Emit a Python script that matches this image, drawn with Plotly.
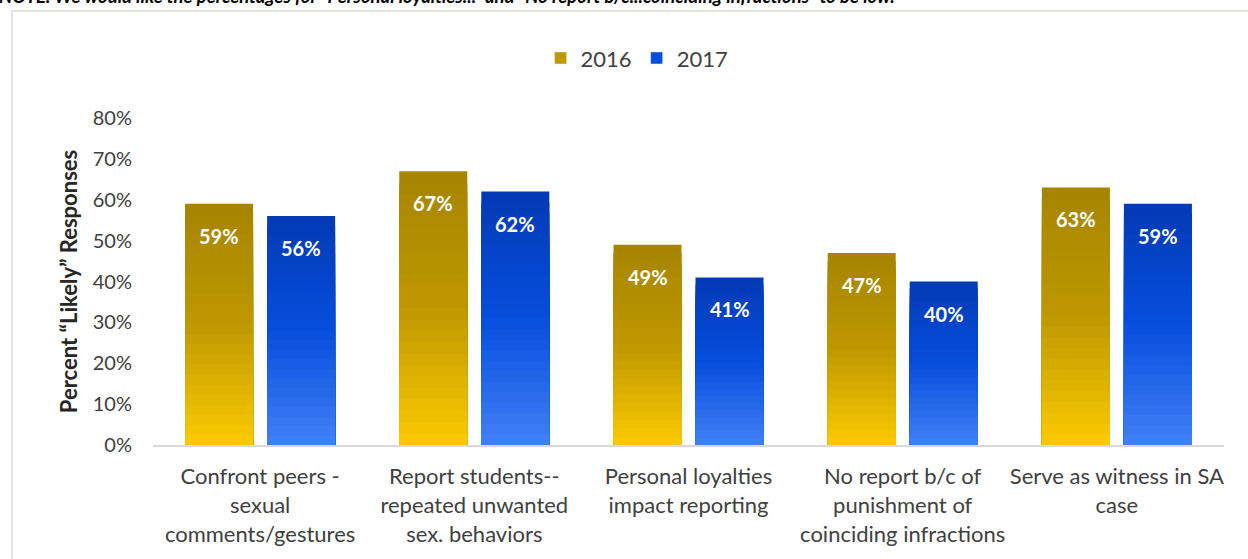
import plotly.graph_objects as go

categories = [
    "Confront peers -<br>sexual<br>comments/gestures",
    "Report students--<br>repeated unwanted<br>sex. behaviors",
    "Personal loyalties<br>impact reporting",
    "No report b/c of<br>punishment of<br>coinciding infractions",
    "Serve as witness in SA<br>case",
]
values_2016 = [59, 67, 49, 47, 63]
values_2017 = [56, 62, 41, 40, 59]
labels_2016 = ["59%", "67%", "49%", "47%", "63%"]
labels_2017 = ["56%", "62%", "41%", "40%", "59%"]
y_ticks = [0, 10, 20, 30, 40, 50, 60, 70, 80]

FONT = "Lato"

def lerp(c1, c2, t):
    return tuple(round(a + (b - a) * t) for a, b in zip(c1, c2))

def grad(stops, t):
    # t: 0 = top of bar, 1 = bottom
    for (t0, c0), (t1, c1) in zip(stops, stops[1:]):
        if t <= t1:
            return lerp(c0, c1, (t - t0) / (t1 - t0))
    return stops[-1][1]

gold_stops = [(0.0, (166, 132, 0)), (0.5, (190, 152, 0)), (1.0, (252, 202, 0))]
blue_stops = [(0.0, (3, 58, 180)), (0.5, (6, 78, 222)), (1.0, (66, 128, 246))]

N = 24
fig = go.Figure()
for name, vals, stops in [("2016", values_2016, gold_stops), ("2017", values_2017, blue_stops)]:
    for i in range(N):
        frac = 1 - i / N
        c = grad(stops, (i + 0.5) / N)
        fig.add_trace(go.Bar(
            x=categories, y=[v * frac for v in vals],
            offsetgroup=name, name=name,
            marker=dict(color="rgb(%d,%d,%d)" % c, line=dict(width=0)),
            showlegend=False, hoverinfo="skip",
        ))
    # legend entry
    fig.add_trace(go.Bar(
        x=[None], y=[None], name=name, offsetgroup=name,
        marker=dict(color="rgb(%d,%d,%d)" % grad(stops, 0.5)),
        showlegend=True,
    ))

# data labels
for vals, labs, shift in [(values_2016, labels_2016, -41), (values_2017, labels_2017, 41)]:
    for cat, v, lab in zip(categories, vals, labs):
        fig.add_annotation(
            x=cat, y=v, text="<b>%s</b>" % lab, showarrow=False,
            xshift=shift, yanchor="middle", yshift=-32,
            font=dict(family=FONT, size=20, color="white"),
        )

# top note (cut off)
fig.add_annotation(
    xref="paper", yref="paper", x=(-3 - 153) / 1071, y=(445 - 9) / 327, xanchor="left", yanchor="bottom",
    text="<b><i>NOTE: We would like the percentages for “Personal loyalties...” and “No report b/c...coinciding infractions” to be low.</i></b>",
    showarrow=False, font=dict(family=FONT, size=18.5, color="black"),
)

# border
fig.add_shape(type="rect", xref="paper", yref="paper",
              x0=(12 - 153) / 1071, x1=1.1, y0=-0.5, y1=(445 - 11) / 327,
              line=dict(color="#e6e6e0", width=2), layer="below")

fig.update_layout(
    width=1248, height=559,
    margin=dict(l=153, r=24, t=118, b=114),
    paper_bgcolor="white", plot_bgcolor="white",
    barmode="group", bargap=0.234, bargroupgap=0.171,
    font=dict(family=FONT, color="#404040"),
    legend=dict(orientation="h", x=0.452, y=1.183, xanchor="center", yanchor="middle",
                font=dict(family=FONT, size=22, color="#404040"), traceorder="normal",
                itemwidth=30, tracegroupgap=0),
    showlegend=True,
)
fig.update_xaxes(
    showline=True, linecolor="#d9d9d9", linewidth=2, ticks="",
    tickfont=dict(family=FONT, size=22, color="#404040"),
    ticklabelstandoff=11,
    showgrid=False,
)
fig.update_yaxes(
    range=[0, 80], tickvals=y_ticks, ticktext=["%d%%" % t for t in y_ticks],
    showgrid=False, zeroline=False, showline=False,
    tickfont=dict(family=FONT, size=20, color="#404040"),
    ticklabelstandoff=20,
    title=dict(text="<b>Percent “Likely” Responses</b>", font=dict(family=FONT, size=22, color="#262626"), standoff=9),
)

fig.write_html("out.html")
